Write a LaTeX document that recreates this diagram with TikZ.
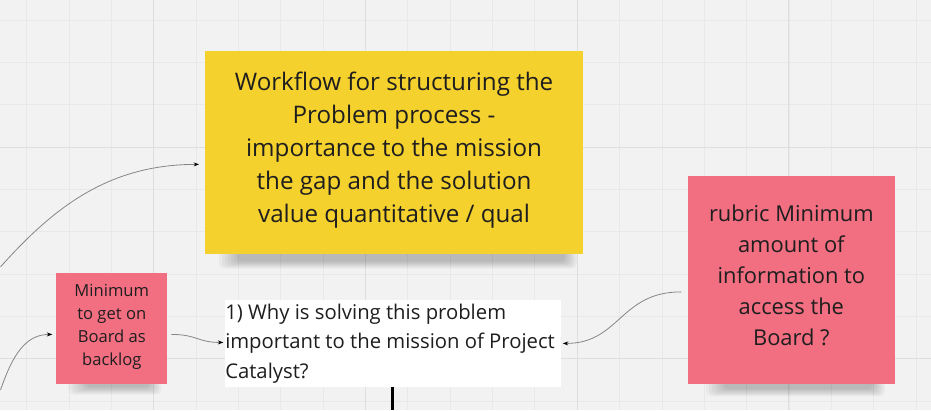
\documentclass[tikz,border=0pt]{standalone}
\usepackage{fontspec}
\setmainfont{Open Sans}
\usetikzlibrary{calc,arrows.meta}
\definecolor{canvasbg}{HTML}{F2F2F2}
\definecolor{gridc}{HTML}{E8E8E8}
\definecolor{gridd}{HTML}{DEDEDE}
\definecolor{stickyyellow}{HTML}{F5D12E}
\definecolor{stickypink}{HTML}{F26E81}
\definecolor{inkc}{HTML}{1E1E1E}
\definecolor{connc}{HTML}{858585}
\pgfdeclarelayer{canvaslayer}
\pgfdeclarelayer{shadowlay}
\pgfsetlayers{canvaslayer,shadowlay,main}
\tikzset{
  gridline/.style={draw=gridc, line width=0.7pt},
  gridbold/.style={draw=gridd, line width=1pt},
  sticky/.style={rectangle, inner sep=0pt},
  stickytext/.style={inner sep=0pt, text=inkc, align=center},
  qbox/.style={rectangle, fill=white, inner sep=0pt},
  conn/.style={draw=connc, line width=0.8pt, -{Stealth[length=5.5pt,width=4pt,color=black]}},
  trunk/.style={draw=black, line width=3pt},
  shadowpiece/.style={fill=black, opacity=0.035, rounded corners=5pt}
}
\begin{document}
\begin{tikzpicture}[x=1pt,y=-1pt]
\begin{pgfonlayer}{canvaslayer}
\fill[canvasbg] (0,0) rectangle (931,410);
\foreach \i in {0,...,21} \draw[gridline] ({26.1+42.4*\i},0) -- ++(0,410);
\foreach \j in {0,...,9} \draw[gridline] (0,{19.5+42.4*\j}) -- ++(931,0);
\foreach \x in {153.3,365.3,577.3,789.3} \draw[gridbold] (\x,0) -- ++(0,410);
\foreach \y in {146.7,358.7} \draw[gridbold] (0,\y) -- ++(931,0);
\end{pgfonlayer}
\useasboundingbox (0,0) rectangle (931,410);

% stickies
\node[sticky, fill=stickyyellow, minimum width=378pt, minimum height=203.5pt] (wf) at (394,152.4) {};
\node[stickytext, font=\fontsize{24.2}{33}\selectfont] (wft) at (394,149.6)
  {Workflow for structuring the\\Problem process -\\importance to the mission\\the gap and the solution\\value quantitative / qual};
\node[sticky, fill=stickypink, minimum width=206.7pt, minimum height=208pt] (rubric) at (791.7,280) {};
\node[stickytext, font=\fontsize{21.9}{31}\selectfont] (rubrict) at (791.7,275.3)
  {rubric Minimum\\amount of\\information to\\access the\\Board ?};
\node[sticky, fill=stickypink, minimum width=110.7pt, minimum height=112pt] (mintb) at (111.4,328.3) {};
\node[stickytext, font=\fontsize{16.6}{22.8}\selectfont] (mintbt) at (111.4,326.8)
  {Minimum\\to get on\\Board as\\backlog};
\node[qbox, minimum width=336pt, minimum height=86.7pt] (q) at (393,343.3) {};
\node[inner sep=0pt, text=inkc, align=left, anchor=west, font=\fontsize{20.3}{29.2}\selectfont] (qt) at ($(q.west)+(0,0.3)$)
  {1) Why is solving this problem\\important to the mission of Project\\Catalyst?};

% shadows
\begin{pgfonlayer}{shadowlay}
\foreach \n/\a/\b/\d in {wf/14/6/14, rubric/18/10/12, mintb/12/6/10}{
  \foreach \k in {0,...,6}{
    \fill[shadowpiece] ($(\n.south west)+({\a+\k*3},-4)$) rectangle ($(\n.south east)+({-\b-\k*2},{\d-\k*1.2})$);
  }
}
\end{pgfonlayer}

% free ends
\coordinate (e1) at (0,266.7);
\coordinate (e2) at (0,390);
\coordinate (e3) at (392,410);

% connectors
\draw[conn] (e1) .. controls (55,205) and (110,164.2) .. ($(wf.north west)+(-6,113.6)$);
\draw[conn] (e2) .. controls (12,355) and (25,334.3) .. ($(mintb.west)+(-4,6)$);
\draw[conn] ($(mintb.east)+(4,6)$) .. controls (197,334.3) and (197,342.3) .. ($(q.west)+(-1.7,-1)$);
\draw[conn] ($(rubric.west)+(-6.6,11.7)$) .. controls (620,291.7) and (620,343.3) .. ($(q.east)+(1.7,0)$);
\draw[trunk] (q.south -| e3) -- (e3);
\end{tikzpicture}
\end{document}
